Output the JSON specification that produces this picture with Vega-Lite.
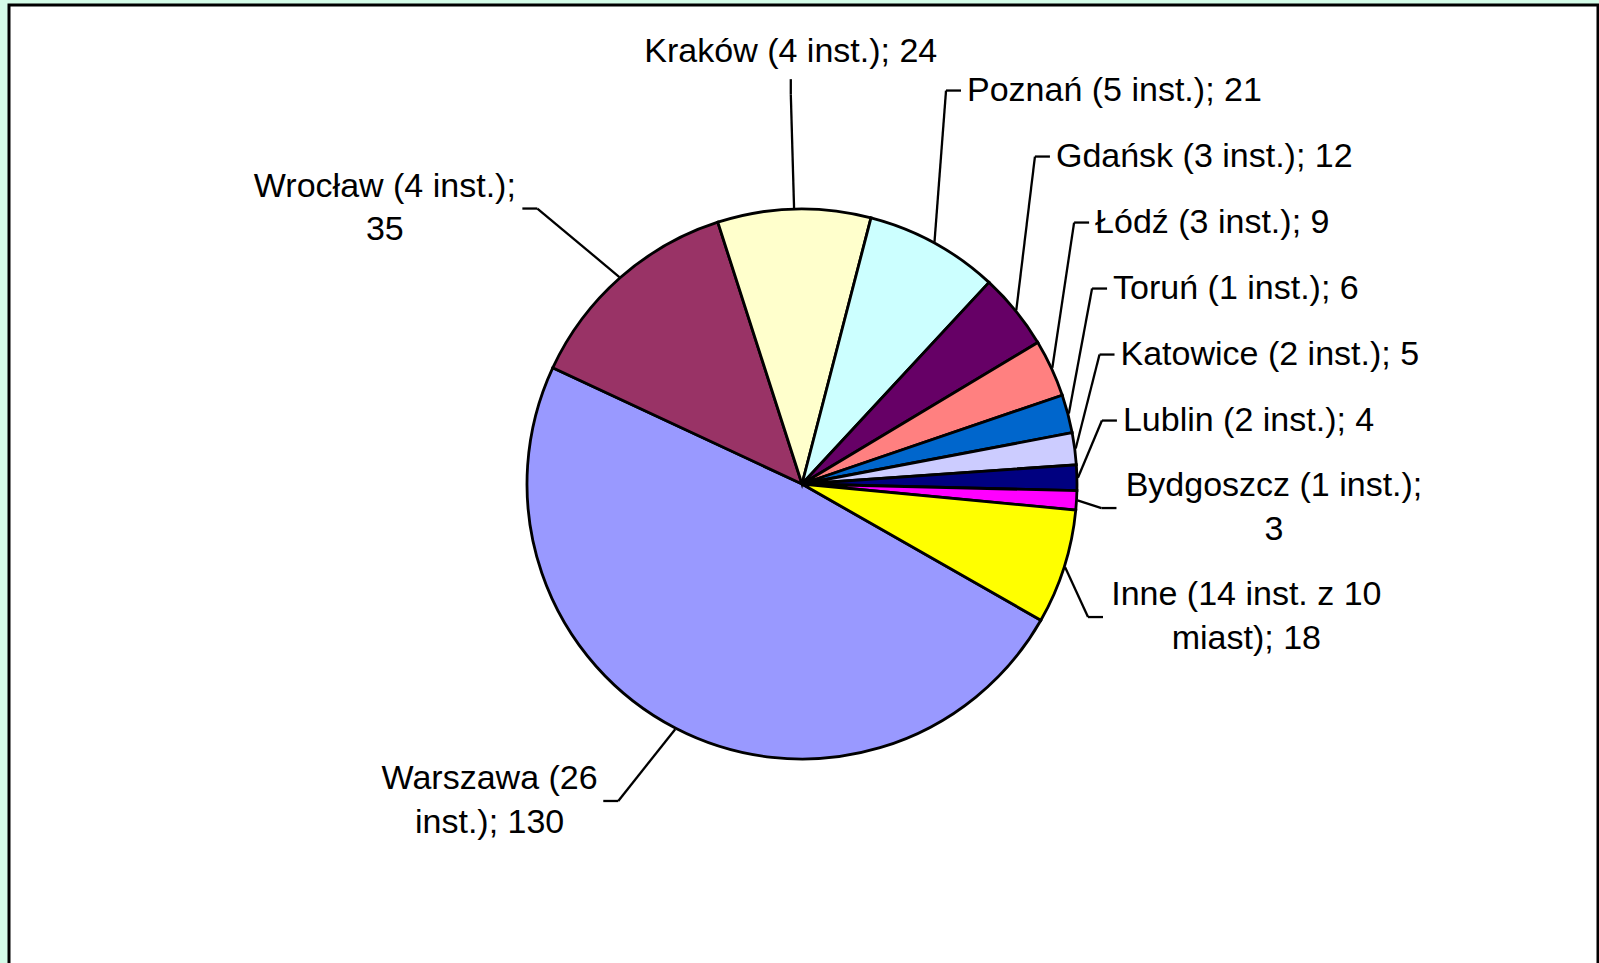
{
  "$schema": "https://vega.github.io/schema/vega-lite/v6.json",
  "autosize": {"type": "fit", "contains": "padding"},
  "width": 1599,
  "height": 963,
  "padding": {"left": 9, "top": 5, "right": 1, "bottom": -10},
  "background": "#D4FCE8",
  "config": {
    "view": {"fill": "white", "stroke": "black", "strokeWidth": 3},
    "text": {"font": "Liberation Sans", "fontSize": 34, "lineHeight": 43.5, "baseline": "middle", "color": "black"}
  },
  "data": {
    "values": [
      {"miasto": "Warszawa", "wartosc": 130, "etykieta": ["Warszawa (26", "inst.); 130"]},
      {"miasto": "Wrocław", "wartosc": 35, "etykieta": ["Wrocław (4 inst.);", "35"]},
      {"miasto": "Kraków", "wartosc": 24, "etykieta": ["Kraków (4 inst.); 24"]},
      {"miasto": "Poznań", "wartosc": 21, "etykieta": ["Poznań (5 inst.); 21"]},
      {"miasto": "Gdańsk", "wartosc": 12, "etykieta": ["Gdańsk (3 inst.); 12"]},
      {"miasto": "Łódź", "wartosc": 9, "etykieta": ["Łódź (3 inst.); 9"]},
      {"miasto": "Toruń", "wartosc": 6, "etykieta": ["Toruń (1 inst.); 6"]},
      {"miasto": "Katowice", "wartosc": 5, "etykieta": ["Katowice (2 inst.); 5"]},
      {"miasto": "Lublin", "wartosc": 4, "etykieta": ["Lublin (2 inst.); 4"]},
      {"miasto": "Bydgoszcz", "wartosc": 3, "etykieta": ["Bydgoszcz (1 inst.);", "3"]},
      {"miasto": "Inne", "wartosc": 18, "etykieta": ["Inne (14 inst. z 10", "miast); 18"]}
    ]
  },
  "transform": [
    {"window": [{"op": "row_number", "as": "idx"}]},
    {"joinaggregate": [{"op": "sum", "field": "wartosc", "as": "suma"}]},
    {"window": [{"op": "sum", "field": "wartosc", "as": "narast"}], "sort": [{"field": "idx"}], "frame": [null, 0]},
    {"calculate": "2.0892 + 2*PI*(datum.narast - datum.wartosc)/datum.suma", "as": "a0"},
    {"calculate": "2.0892 + 2*PI*datum.narast/datum.suma", "as": "a1"},
    {"calculate": "(datum.a0 + datum.a1)/2", "as": "am"},
    {"calculate": "sin(datum.am)", "as": "sx"},
    {"calculate": "-cos(datum.am)", "as": "cy"},
    {"calculate": "abs(datum.sx) < 0.3 ? 'T' : (datum.sx > 0 ? 'R' : 'L')", "as": "typ"},
    {"calculate": "datum.typ == 'T' ? 390 : (datum.typ == 'L' ? 400 : 300)", "as": "rex"},
    {"calculate": "datum.typ == 'T' ? 390 : 300", "as": "rey"},
    {"calculate": "length(datum.etykieta)", "as": "lines"},
    {"calculate": "23 + 43*datum.lines", "as": "h"},
    {"calculate": "datum.rey*datum.cy + (datum.cy < 0 ? -1 : 1)*(datum.typ == 'T' ? 42 : (datum.typ == 'L' ? datum.h/2 - 4 : datum.h/2 - 12))", "as": "ny"},
    {"window": [{"op": "sum", "field": "h", "as": "hc"}, {"op": "first_value", "field": "h", "as": "h0"}], "groupby": ["typ"], "sort": [{"field": "ny", "order": "descending"}], "frame": [null, 0]},
    {"calculate": "datum.hc - datum.h0/2 - datum.h/2", "as": "dd"},
    {"calculate": "datum.ny + datum.dd", "as": "zz"},
    {"window": [{"op": "min", "field": "zz", "as": "zc"}], "groupby": ["typ"], "sort": [{"field": "ny", "order": "descending"}], "frame": [null, 0]},
    {"calculate": "datum.zc - datum.dd", "as": "ly"},
    {"calculate": "datum.rex*datum.sx", "as": "bx"},
    {"calculate": "276*datum.sx", "as": "ex"},
    {"calculate": "276*datum.cy", "as": "ey"},
    {"calculate": "datum.typ == 'T' ? datum.ly + (datum.cy < 0 ? 42 : -42) : datum.ly", "as": "qy"},
    {"calculate": "datum.typ == 'R' ? datum.bx + 15 : (datum.typ == 'L' ? datum.bx - 15 : datum.bx)", "as": "rx"},
    {"calculate": "datum.typ == 'T' ? datum.ly + (datum.cy < 0 ? 27 : -27) : datum.ly", "as": "ry"},
    {"calculate": "34*(0.556*length(datum.etykieta[0]) - 0.276*(length(datum.etykieta[0]) - length(replace(datum.etykieta[0], regexp('[iIlłjtfr.,;:() ]', 'g'), ''))) + 0.244*(length(datum.etykieta[0]) - length(replace(datum.etykieta[0], regexp('[WwmM]', 'g'), ''))))", "as": "w0"},
    {"calculate": "datum.lines > 1 ? 34*(0.556*length(datum.etykieta[1]) - 0.276*(length(datum.etykieta[1]) - length(replace(datum.etykieta[1], regexp('[iIlłjtfr.,;:() ]', 'g'), ''))) + 0.244*(length(datum.etykieta[1]) - length(replace(datum.etykieta[1], regexp('[WwmM]', 'g'), '')))) : 0", "as": "w1"},
    {"calculate": "max(datum.w0, datum.w1)", "as": "ww"},
    {"calculate": "datum.typ == 'R' ? datum.bx + 21 + datum.ww/2 : (datum.typ == 'L' ? datum.bx - 21 - datum.ww/2 : datum.bx)", "as": "tx"},
    {"calculate": "datum.bx + 21", "as": "txl"}
  ],
  "layer": [
    {
      "mark": {"type": "arc", "outerRadius": 275, "stroke": "black", "strokeWidth": 2.8},
      "encoding": {
        "x": {"datum": 0, "type": "quantitative", "scale": {"domain": [-793, 796], "nice": false, "zero": false}, "axis": null},
        "y": {"datum": 0, "type": "quantitative", "scale": {"domain": [-479, 489], "reverse": true, "nice": false, "zero": false}, "axis": null},
        "theta": {"field": "a0", "type": "quantitative", "scale": null},
        "theta2": {"field": "a1"},
        "color": {
          "field": "miasto",
          "type": "nominal",
          "scale": {
            "domain": ["Warszawa", "Wrocław", "Kraków", "Poznań", "Gdańsk", "Łódź", "Toruń", "Katowice", "Lublin", "Bydgoszcz", "Inne"],
            "range": ["#9999FF", "#993366", "#FFFFCC", "#CCFFFF", "#660066", "#FF8080", "#0066CC", "#CCCCFF", "#000080", "#FF00FF", "#FFFF00"]
          },
          "legend": null
        }
      }
    },
    {
      "mark": {"type": "rule", "stroke": "black", "strokeWidth": 2.3},
      "encoding": {
        "x": {"field": "ex", "type": "quantitative", "scale": {"domain": [-793, 796], "nice": false, "zero": false}, "axis": null},
        "y": {"field": "ey", "type": "quantitative", "scale": {"domain": [-479, 489], "reverse": true, "nice": false, "zero": false}, "axis": null},
        "x2": {"field": "bx"},
        "y2": {"field": "qy"}
      }
    },
    {
      "mark": {"type": "rule", "stroke": "black", "strokeWidth": 2.3},
      "encoding": {
        "x": {"field": "bx", "type": "quantitative", "scale": {"domain": [-793, 796], "nice": false, "zero": false}, "axis": null},
        "y": {"field": "qy", "type": "quantitative", "scale": {"domain": [-479, 489], "reverse": true, "nice": false, "zero": false}, "axis": null},
        "x2": {"field": "rx"},
        "y2": {"field": "ry"}
      }
    },
    {
      "transform": [{"filter": "datum.typ == 'R' && datum.lines == 1"}],
      "mark": {"type": "text", "align": "left"},
      "encoding": {
        "x": {"field": "txl", "type": "quantitative", "scale": {"domain": [-793, 796], "nice": false, "zero": false}, "axis": null},
        "y": {"field": "ly", "type": "quantitative", "scale": {"domain": [-479, 489], "reverse": true, "nice": false, "zero": false}, "axis": null},
        "text": {"field": "etykieta", "type": "nominal"}
      }
    },
    {
      "transform": [{"filter": "datum.typ != 'R' && datum.lines == 1"}],
      "mark": {"type": "text", "align": "center"},
      "encoding": {
        "x": {"field": "tx", "type": "quantitative", "scale": {"domain": [-793, 796], "nice": false, "zero": false}, "axis": null},
        "y": {"field": "ly", "type": "quantitative", "scale": {"domain": [-479, 489], "reverse": true, "nice": false, "zero": false}, "axis": null},
        "text": {"field": "etykieta", "type": "nominal"}
      }
    },
    {
      "transform": [{"filter": "datum.lines > 1"}],
      "mark": {"type": "text", "align": "center", "dy": -21.75},
      "encoding": {
        "x": {"field": "tx", "type": "quantitative", "scale": {"domain": [-793, 796], "nice": false, "zero": false}, "axis": null},
        "y": {"field": "ly", "type": "quantitative", "scale": {"domain": [-479, 489], "reverse": true, "nice": false, "zero": false}, "axis": null},
        "text": {"field": "etykieta", "type": "nominal"}
      }
    }
  ]
}
